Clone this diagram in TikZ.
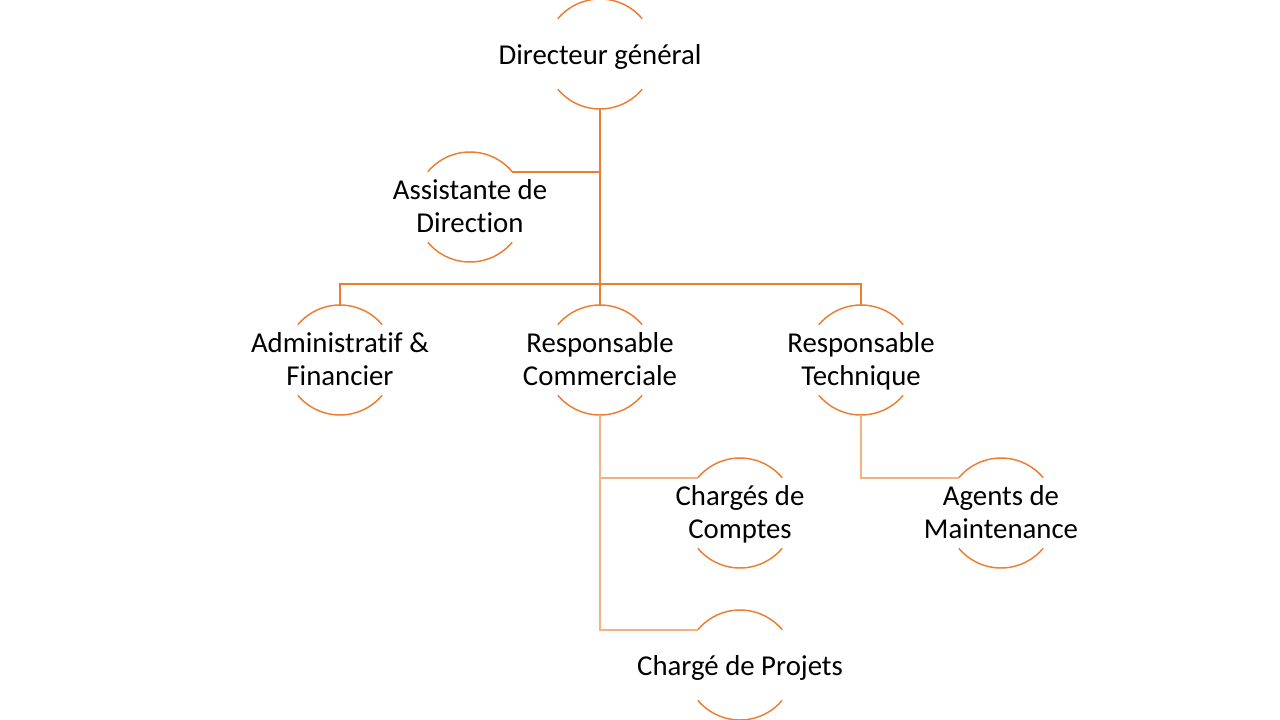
\documentclass[tikz,border=0pt]{standalone}
\usepackage{fontspec}
\setmainfont{Carlito}[Ligatures=NoCommon]
\usetikzlibrary{positioning}
\definecolor{orgdark}{HTML}{ED7D31}
\definecolor{orglight}{HTML}{F4B183}

\begin{document}
\begin{tikzpicture}[
        x=0.75pt, y=-0.75pt,
        ring/.style={circle, draw=none, inner sep=0pt, outer sep=0pt, minimum size=82.5pt},
        ringline/.style={draw=orgdark, line width=1.1pt},
        lbl/.style={align=center, text=black, font=\fontsize{21.6}{24.75}\selectfont,
            yshift=-3pt, execute at begin node=\strut, execute at end node=\strut},
        topline/.style={draw=orgdark, line width=1.3pt},
        subline/.style={draw=orglight, line width=1.3pt}
    ]
    \useasboundingbox (0,0) rectangle (1280,720);

    % circles
    \node[ring] (D) at (600,54) {};
    \node[ring] (A) at (470,207) {};
    \node[ring] (AF) at (340,360) {};
    \node[ring] (RC) at (600,360) {};
    \node[ring] (RT) at (861,360) {};
    \node[ring] (CC) at (740,513) {};
    \node[ring] (AM) at (1001,513) {};
    \node[ring] (CP) at (740,665) {};
    \foreach \n in {D,A,AF,RC,RT,CC,AM,CP} {
        \draw[ringline] (\n.40) arc[start angle=40, end angle=140, radius=41.25pt];
        \draw[ringline] (\n.220) arc[start angle=220, end angle=320, radius=41.25pt];
    }

    % labels
    \node[lbl] (Dt) at (D) {Directeur général};
    \node[lbl] (At) at (A) {Assistante de\\Direction};
    \node[lbl] (AFt) at (AF) {Administratif \&\\Financier};
    \node[lbl] (RCt) at (RC) {Responsable\\Commerciale};
    \node[lbl] (RTt) at (RT) {Responsable\\Technique};
    \node[lbl] (CCt) at (CC) {Chargés de\\Comptes};
    \node[lbl] (AMt) at (AM) {Agents de\\Maintenance};
    \node[lbl] (CPt) at (CP) {Chargé de Projets};

    % connectors
    \coordinate (bus) at (600,284);
    \draw[topline] (D.south) -- (RC.north);
    \draw[topline] (A.40) -- (A.40 -| D.south);
    \draw[topline] (AF.north) |- (bus) -| (RT.north);
    \draw[subline] (RC.south) |- (CP.140);
    \draw[subline] (RC.south |- CC.140) -- (CC.140);
    \draw[subline] (RT.south) |- (AM.140);

\end{tikzpicture}
\end{document}
